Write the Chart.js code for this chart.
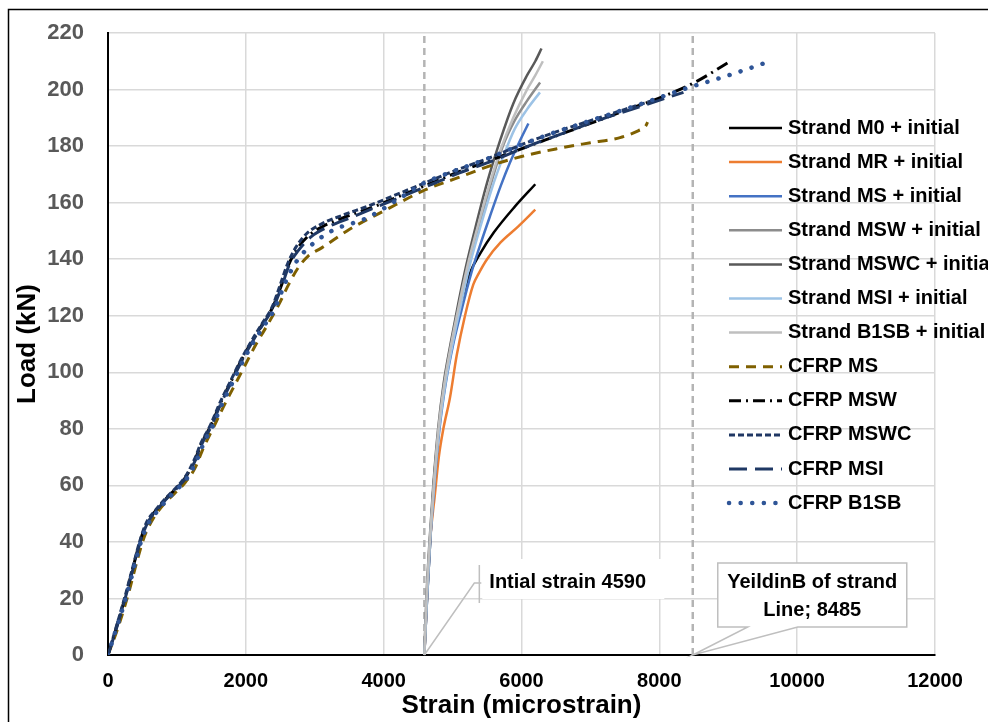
<!DOCTYPE html>
<html>
<head>
<meta charset="utf-8">
<script src="https://cdn.jsdelivr.net/npm/chart.js@4.4.1/dist/chart.umd.min.js"></script>
<style>
  html, body { margin: 0; padding: 0; background: #fff; }
  #wrap { width: 988px; height: 722px; position: relative; }
</style>
</head>
<body>
<div id="wrap"><canvas id="chart"></canvas></div>
<script>
// strain (microstrain), load (kN) pairs
const strandM0 = [[4590,0],[4630,20],[4675,40],[4725,60],[4800,80],[4880,95],[4990,110],[5110,123],[5250,135],[5400,142],[5600,149.5],[5900,158.5],[6200,166.5]];
const strandMR = [[4590,0],[4628,20],[4672,40],[4740,56],[4800,70],[4866,80],[4962,91],[5060,106],[5180,120],[5300,131],[5380,135],[5500,140],[5700,146],[5950,151.5],[6200,157.5]];
const strandMS = [[4590,0],[4630,20],[4675,40],[4735,60],[4810,80],[4900,96],[5010,110],[5130,122],[5270,135],[5400,145],[5540,155],[5700,166],[5830,174],[5960,181],[6100,188]];
const strandMSW = [[4590,0],[4625,20],[4670,40],[4730,60],[4800,80],[4890,96],[4990,110],[5110,124],[5240,138],[5400,153],[5560,167],[5730,180],[5900,189],[6080,196],[6270,202.5]];
const strandMSWC = [[4590,0],[4620,20],[4665,40],[4720,60],[4790,80],[4870,96],[4970,110],[5080,124],[5200,138],[5350,153],[5500,167],[5690,182],[5880,195],[6080,205],[6200,210],[6290,214.5]];
const strandMSI = [[4590,0],[4628,20],[4672,40],[4732,60],[4805,80],[4895,96],[5000,110],[5120,124],[5250,138],[5410,152],[5570,165],[5731,176],[5900,186],[6080,193],[6268,199]];
const strandB1SB = [[4590,0],[4622,20],[4668,40],[4725,60],[4795,80],[4880,96],[4980,110],[5095,124],[5220,138],[5370,152],[5530,166],[5700,179],[5880,190],[6080,200],[6200,205],[6310,210]];

const cfrpMS = [[0,0],[150,10],[300,22],[430,34],[530,42],[650,48],[800,53],[960,57],[1120,61],[1260,66],[1380,73],[1520,80],[1680,88],[1850,96],[2000,103],[2150,110],[2320,117],[2480,124],[2620,131],[2760,137],[2900,141],[3100,144],[3500,150.5],[4000,157],[4600,164.5],[5100,169],[5600,173.5],[6000,176.3],[6500,179],[7000,181.2],[7430,183],[7700,185.5],[7800,187],[7830,188.5]];
const cfrpMSW = [[0,0],[125,10],[255,21],[385,33],[475,41],[570,47],[690,51],[830,55],[990,59],[1130,63],[1260,69],[1360,75],[1490,81],[1630,89],[1790,97],[1930,104],[2090,111],[2240,117],[2390,123],[2520,131],[2620,138],[2740,143.5],[2920,148.5],[3150,152],[3450,155],[3850,158.5],[4250,162.5],[4650,166.5],[5050,170.5],[5550,175],[6050,179.5],[6550,184],[7050,188.5],[7550,193],[8050,197.5],[8550,203],[9030,210]];
const cfrpMSWC = [[0,0],[120,10],[250,21],[380,33],[470,41],[560,47],[680,51],[820,55],[980,59],[1120,63],[1250,69],[1350,75],[1480,81],[1620,89],[1780,97],[1920,104],[2080,111],[2230,117],[2380,123],[2500,131],[2600,138],[2720,144],[2880,149],[3100,152.5],[3400,155.5],[3800,159],[4200,163],[4600,167],[5000,171],[5500,175.5],[6000,180.5],[6500,185],[7000,189],[7500,193],[7950,196.5]];
const cfrpMSI = [[0,0],[130,10],[260,21],[390,33],[480,41],[580,47],[700,51],[840,55],[1000,59],[1140,63],[1270,69],[1370,75],[1500,81],[1640,89],[1800,97],[1940,104],[2100,111],[2250,117],[2400,123],[2530,131],[2630,138],[2760,143],[2950,148],[3200,151.5],[3500,154.5],[3900,158.5],[4300,162.5],[4700,166.5],[5100,170.5],[5600,175],[6100,180],[6600,184.5],[7100,189],[7600,193],[8100,197],[8350,199]];
const cfrpB1SB = [[0,0],[130,10],[270,21],[400,33],[490,41],[600,47],[720,51],[860,55],[1020,59],[1160,63],[1290,69],[1390,75],[1520,81],[1660,89],[1820,97],[1960,104],[2120,111],[2280,117],[2430,123],[2560,131],[2680,137],[2790,141],[3000,146],[3270,150.3],[3750,154.5],[4200,161],[4550,166.5],[5000,171],[5500,175.5],[6000,180.5],[6500,185],[7000,189],[7500,193],[7864,196],[8400,200.5],[9000,205],[9520,209.3]];

const initialStrain = 4590;
const yieldStrain = 8485;
const loadMax = 220;

const FONT = "'Liberation Sans', Arial, sans-serif";

function series(label, pts, color, width, dash, cap) {
  return {
    label: label,
    data: pts.map(p => ({x: p[0], y: p[1]})),
    borderColor: color,
    backgroundColor: color,
    borderWidth: width,
    borderDash: dash || [],
    borderCapStyle: cap || 'butt',
    showLine: true,
    pointRadius: 0,
    fill: false,
    cubicInterpolationMode: 'monotone'
  };
}

const datasets = [
  series('Strand M0 + initial', strandM0, '#000000', 2.5),
  series('Strand MR + initial', strandMR, '#ED7D31', 2.5),
  series('Strand MS + initial', strandMS, '#4472C4', 2.5),
  series('Strand MSW + initial', strandMSW, '#8C8C8C', 2.5),
  series('Strand MSWC + initial', strandMSWC, '#595959', 2.5),
  series('Strand MSI + initial', strandMSI, '#9DC3E6', 2.5),
  series('Strand B1SB + initial', strandB1SB, '#BFBFBF', 2.5),
  series('CFRP MS', cfrpMS, '#7F6000', 3, [10, 7]),
  series('CFRP MSW', cfrpMSW, '#000000', 3, [12, 5, 2, 5]),
  series('CFRP MSWC', cfrpMSWC, '#203864', 3, [6, 3]),
  series('CFRP MSI', cfrpMSI, '#1F3864', 3, [18, 8]),
  series('CFRP B1SB', cfrpB1SB, '#2F5597', 4.5, [0.1, 11.5], 'round')
];
datasets.forEach((d, i) => { d.order = datasets.length - i; });

// the two vertical reference lines
datasets.push({
  label: 'initial', legend: false, order: 50,
  data: [{x: initialStrain, y: 0}, {x: initialStrain, y: loadMax}],
  borderColor: '#B4B4B4', borderWidth: 2.5, borderDash: [7, 5], showLine: true, pointRadius: 0
});
datasets.push({
  label: 'yield', legend: false, order: 50,
  data: [{x: yieldStrain, y: 0}, {x: yieldStrain, y: loadMax}],
  borderColor: '#B4B4B4', borderWidth: 2.5, borderDash: [7, 5], showLine: true, pointRadius: 0
});

const extras = {
  id: 'extras',
  afterDraw(chart) {
    const ctx = chart.ctx;
    const xs = chart.scales.x, ys = chart.scales.y;
    ctx.save();

    // outer frame
    ctx.strokeStyle = '#000';
    ctx.lineWidth = 1.5;
    ctx.strokeRect(8.5, 9.5, 1200, 1200);

    // callout: initial strain
    const ax = xs.getPixelForValue(initialStrain), ay = ys.getPixelForValue(0);
    ctx.fillStyle = '#fff';
    ctx.fillRect(ax + 58, ay - 96, 182, 40);
    ctx.strokeStyle = '#BFBFBF';
    ctx.lineWidth = 1.5;
    ctx.beginPath();
    ctx.moveTo(ax, ay);
    ctx.lineTo(ax + 50, ay - 72);
    ctx.lineTo(ax + 57, ay - 72);
    ctx.moveTo(ax + 55, ay - 90);
    ctx.lineTo(ax + 55, ay - 52);
    ctx.stroke();
    ctx.fillStyle = '#000';
    ctx.font = 'bold 20px ' + FONT;
    ctx.textAlign = 'left';
    ctx.textBaseline = 'middle';
    ctx.fillText('Intial strain ' + initialStrain, ax + 65, ay - 73);

    // callout: yield line
    const bx = xs.getPixelForValue(yieldStrain), by = ys.getPixelForValue(0);
    const L = bx + 25, R = bx + 214, T = by - 92, B = by - 28;
    ctx.beginPath();
    ctx.moveTo(L, T);
    ctx.lineTo(R, T);
    ctx.lineTo(R, B);
    ctx.lineTo(bx + 105, B);
    ctx.lineTo(bx, by);
    ctx.lineTo(bx + 55, B);
    ctx.lineTo(L, B);
    ctx.closePath();
    ctx.fillStyle = '#fff';
    ctx.fill();
    ctx.strokeStyle = '#BFBFBF';
    ctx.stroke();
    ctx.fillStyle = '#000';
    ctx.textAlign = 'center';
    ctx.fillText('YeildinB of strand', (L + R) / 2, T + 19);
    ctx.fillText('Line; ' + yieldStrain, (L + R) / 2, T + 47);

    // legend
    let row = 0;
    chart.data.datasets.forEach(d => {
      if (d.legend === false) return;
      const y = 128 + row * 34.1;
      ctx.strokeStyle = d.borderColor;
      ctx.lineWidth = d.borderWidth;
      ctx.setLineDash(d.borderDash);
      ctx.lineCap = d.borderCapStyle;
      ctx.beginPath();
      ctx.moveTo(729, y);
      ctx.lineTo(782, y);
      ctx.stroke();
      ctx.setLineDash([]);
      ctx.lineCap = 'butt';
      ctx.fillStyle = '#000';
      ctx.textAlign = 'left';
      ctx.fillText(d.label, 788, y);
      row++;
    });
    ctx.restore();
  }
};

new Chart(document.getElementById('chart'), {
  type: 'scatter',
  data: { datasets: datasets },
  options: {
    responsive: true,
    maintainAspectRatio: false,
    animation: false,
    layout: { padding: { left: 8, top: 33, right: 53, bottom: 0 } },
    plugins: { legend: { display: false }, tooltip: { enabled: false } },
    scales: {
      x: {
        type: 'linear', min: 0, max: 12000,
        afterFit(s) { s.height = 67; },
        ticks: { stepSize: 2000, color: '#000', padding: 14, callback: v => String(v), font: { family: FONT, size: 20, weight: 'bold' } },
        grid: { color: '#D9D9D9', lineWidth: 1.5, drawTicks: false },
        border: { color: '#000', width: 2 },
        title: { display: true, text: 'Strain (microstrain)', color: '#000', padding: { top: 0, bottom: 1 }, font: { family: FONT, size: 26, weight: 'bold' } }
      },
      y: {
        type: 'linear', min: 0, max: loadMax,
        // tick padding would otherwise push the plot top down
        afterFit(s) { s.width = 100; s.paddingTop = 0; s.paddingBottom = 0; },
        ticks: { stepSize: 20, color: '#595959', padding: 24, font: { family: FONT, size: 22, weight: 'bold' } },
        grid: { color: '#D9D9D9', lineWidth: 1.5, drawTicks: false },
        border: { color: '#000', width: 2 },
        title: { display: true, text: 'Load (kN)', color: '#000', padding: { top: 4, bottom: 0 }, font: { family: FONT, size: 26, weight: 'bold' } }
      }
    }
  },
  plugins: [extras]
});
</script>
</body>
</html>
